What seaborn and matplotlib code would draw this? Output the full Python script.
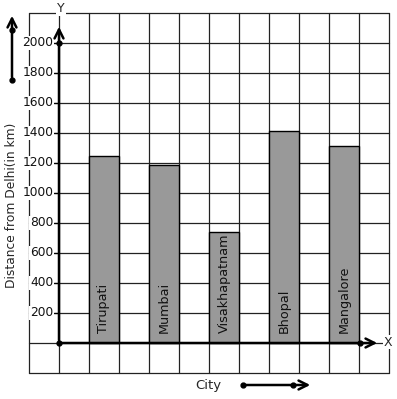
import numpy as np
import matplotlib
matplotlib.use("Agg")
import matplotlib.pyplot as plt
import seaborn as sns

cities = ["Tirupati", "Mumbai", "Visakhapatnam", "Bhopal", "Mangalore"]
distances = [1245, 1185, 740, 1415, 1315]
y_ticks = [200, 400, 600, 800, 1000, 1200, 1400, 1600, 1800, 2000]

W, H = 397, 399
sns.set_theme(style="white")
plt.rcParams["font.family"] = ["DejaVu Sans"]

fig = plt.figure(figsize=(W / 100, H / 100), dpi=100)
# axes box = the square grid paper (px 29..389 wide, 13..373 tall)
ax = fig.add_axes([29 / W, (H - 373) / H, 360 / W, 360 / H])

sns.barplot(x=cities, y=distances, color="#999999", width=0.5,
            edgecolor="black", linewidth=1.0, saturation=1, ax=ax, zorder=3)

# one grid cell = 0.5 category unit horizontally, 200 km vertically
x0 = -1.25
ax.set_xlim(x0, x0 + 6)
ax.set_ylim(-200, 2200)
y_axis_x = x0 + 0.5

for gx in np.arange(x0, x0 + 6.01, 0.5):
    ax.axvline(gx, color="#222222", lw=0.9, zorder=1, clip_on=False)
for gy in np.arange(-200, 2201, 200):
    ax.axhline(gy, color="#222222", lw=0.9, zorder=1, clip_on=False)

for s in ax.spines.values():
    s.set_visible(False)
ax.set_xticks([])
ax.set_xlabel("")
ax.set_ylabel("")
ax.set_yticks([])

box = dict(facecolor="white", edgecolor="none", pad=0.6)

# y tick labels beside the drawn axis
for v in y_ticks:
    ax.plot([y_axis_x - 0.08, y_axis_x], [v, v], color="black", lw=0.9, zorder=4)
    ax.text(y_axis_x - 0.09, v, str(v), ha="right", va="center",
            fontsize=8.8, color="#111111", zorder=5, bbox=box)

# bar labels inside bars
for i, c in enumerate(cities):
    ax.text(i, 67, c, rotation=90, ha="center", va="bottom",
            fontsize=9.2, color="#111111", zorder=5)

# axes arrows
arr = dict(arrowstyle="->", color="black", lw=1.8, mutation_scale=16)
ax.annotate("", xy=(y_axis_x, 2127), xytext=(y_axis_x, 0), arrowprops=arr, zorder=6)
ax.annotate("", xy=(x0 + (380 - 29) / 60, 0), xytext=(y_axis_x, 0), arrowprops=arr, zorder=6)
ax.plot([y_axis_x, y_axis_x, x0 + (360 - 29) / 60], [0, 2000, 0], "o",
        color="black", ms=3.5, zorder=7, clip_on=False)


# labels and direction arrows in figure pixels
def fx(px):
    return px / W


def fy(py):
    return 1 - py / H


fig.text(fx(61), fy(9), "Y", ha="center", va="center", fontsize=9, bbox=box, zorder=8)
fig.text(fx(388), fy(342), "X", ha="center", va="center", fontsize=9, bbox=box, zorder=8)
fig.text(fx(12), fy(205), "Distance from Delhi(in km)", rotation=90,
         ha="center", va="center", fontsize=8.8)
fig.text(fx(208), fy(385), "City", ha="center", va="center", fontsize=9.5)

for (xa, ya), (xb, yb), mid in [((12, 80), (12, 13), (12, 30)),
                                ((243, 385), (313, 385), (293, 385))]:
    fig.add_artist(matplotlib.patches.FancyArrowPatch(
        (fx(xa), fy(ya)), (fx(xb), fy(yb)), transform=fig.transFigure,
        arrowstyle="->", color="black", lw=1.8, mutation_scale=16))
    fig.add_artist(matplotlib.lines.Line2D([fx(xa), fx(mid[0])], [fy(ya), fy(mid[1])],
                                           marker="o", ls="none", ms=3.5,
                                           color="black", transform=fig.transFigure))

fig.savefig("out.png", dpi=100, facecolor="white")
